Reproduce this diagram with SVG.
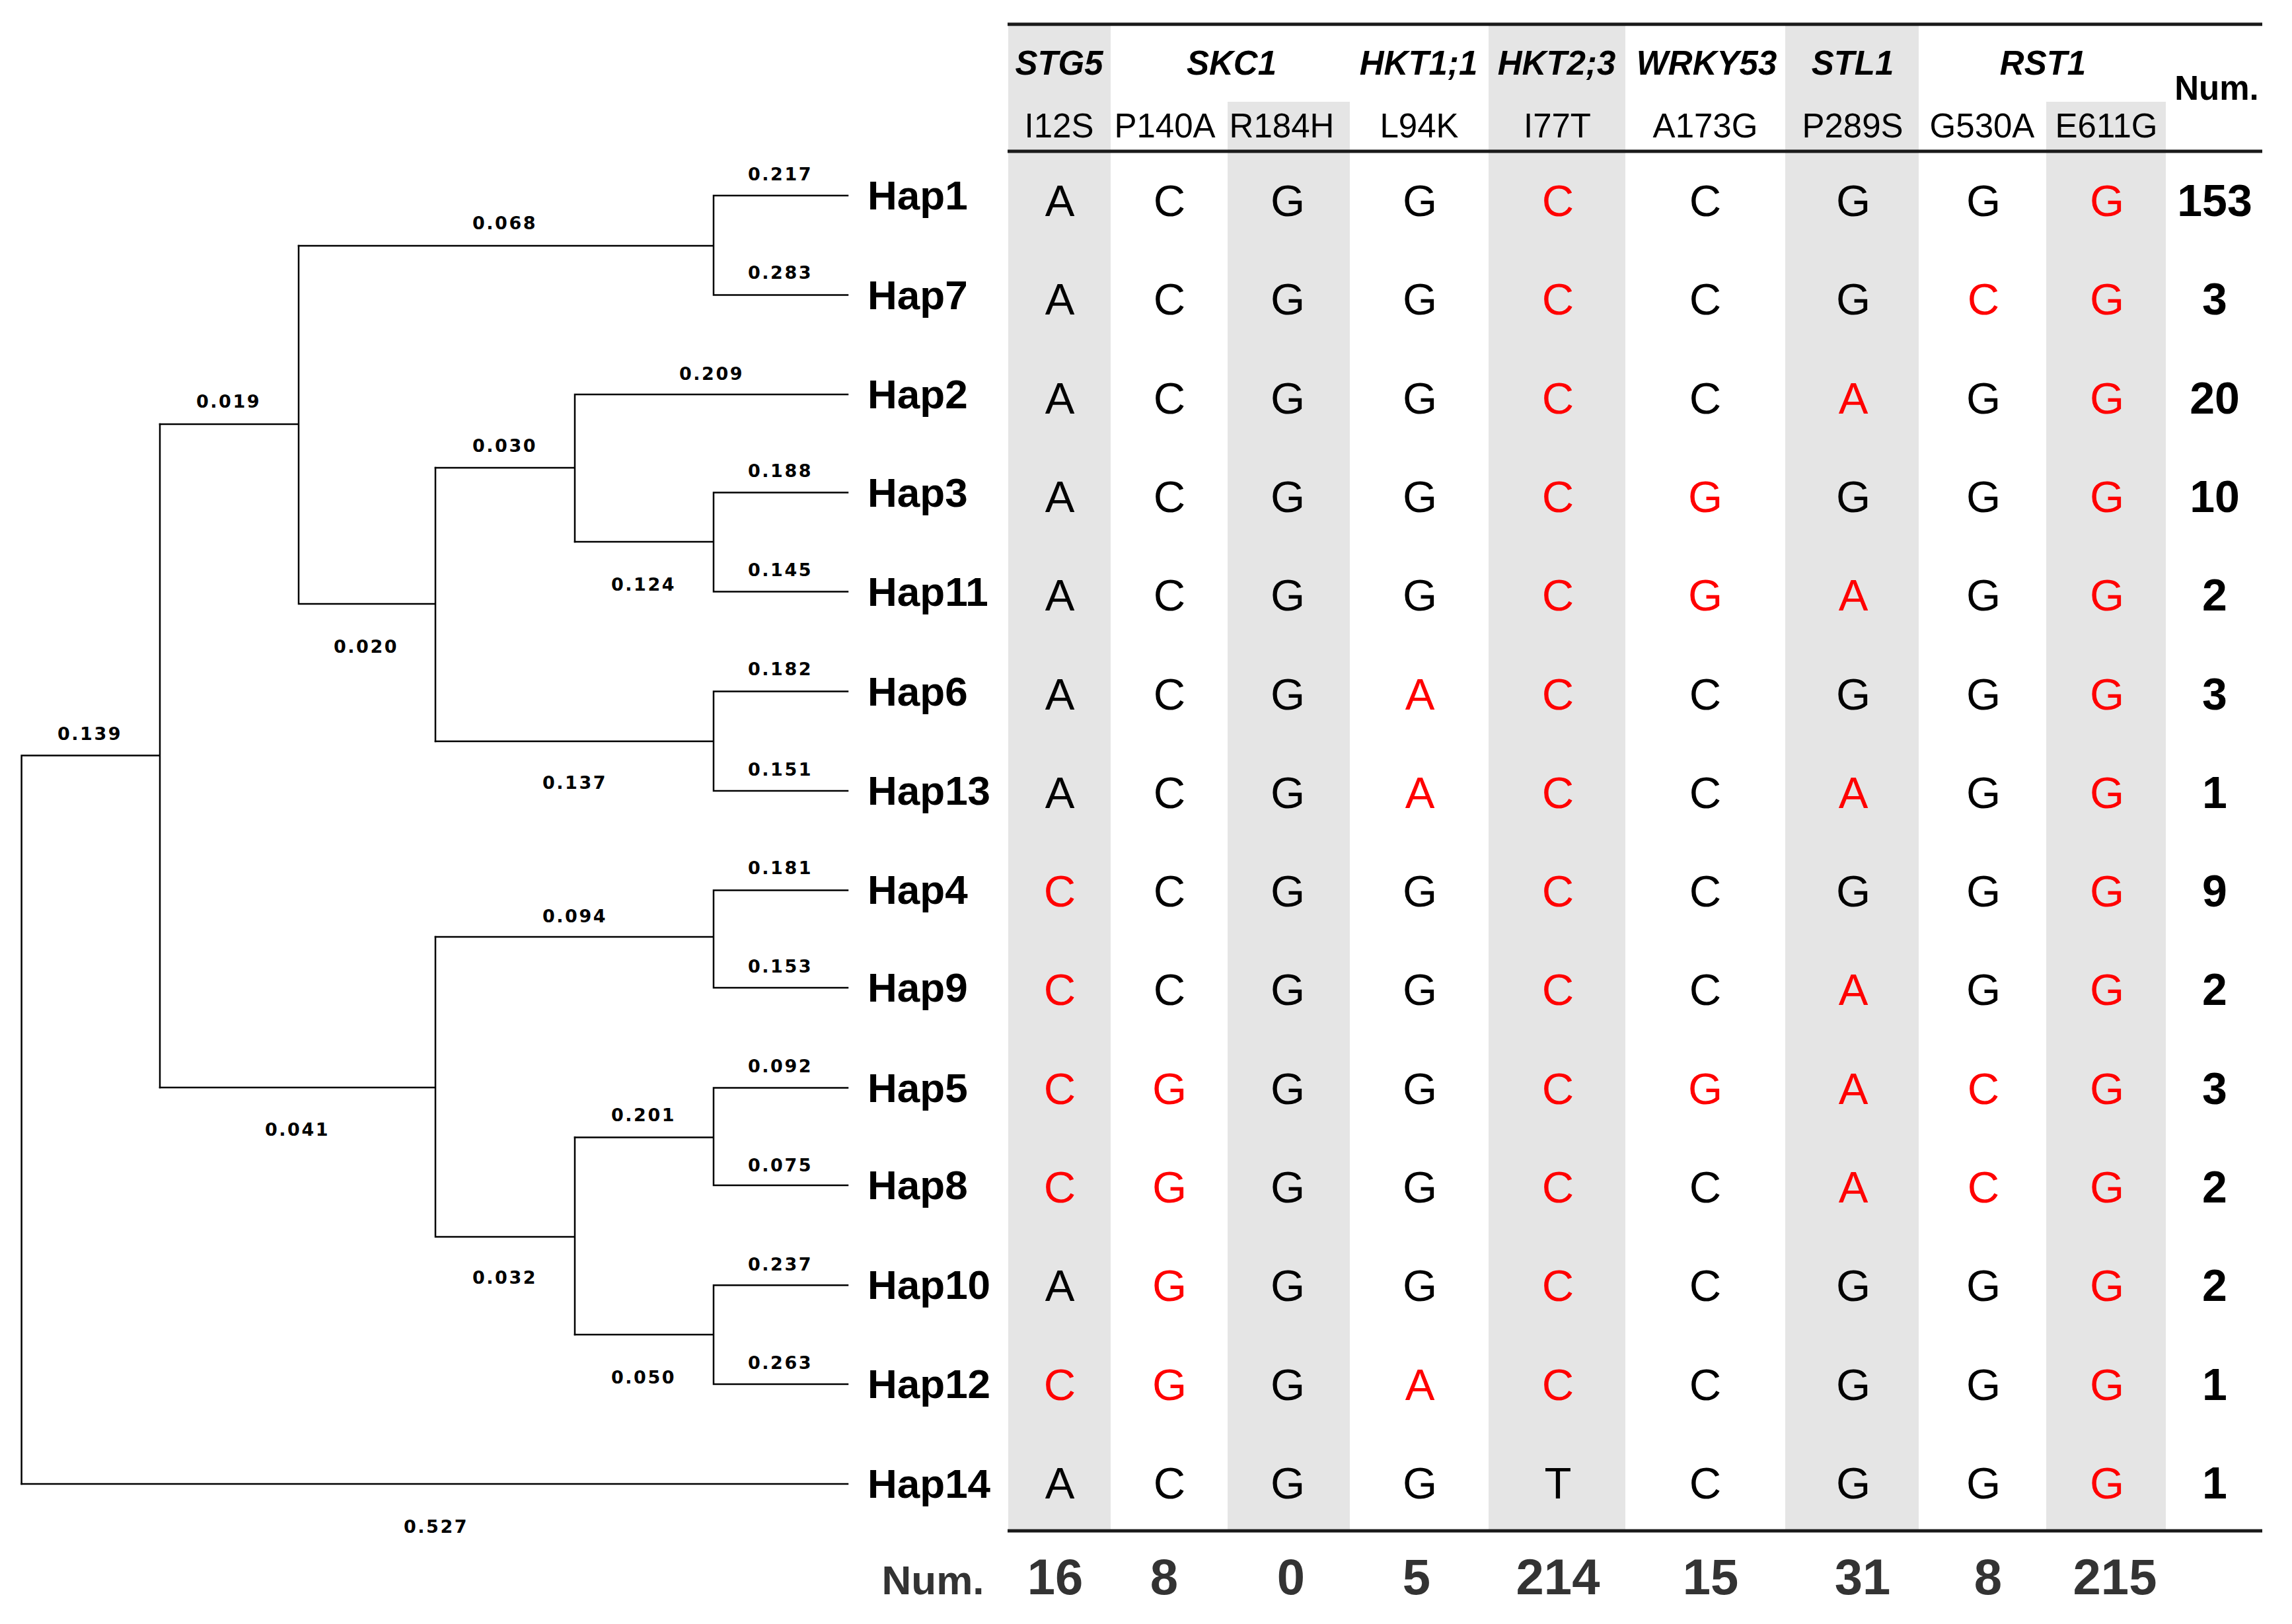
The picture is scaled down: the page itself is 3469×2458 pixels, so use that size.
<svg xmlns="http://www.w3.org/2000/svg" width="3469" height="2458" viewBox="0 0 3469 2458">
<style>
.ln{stroke:#000;stroke-width:2.5;fill:none;stroke-linecap:square}
.bl{font-family:"DejaVu Sans",sans-serif;font-weight:bold;font-size:27px;letter-spacing:2.5px;text-anchor:middle;fill:#000}
.hap{font-family:"Liberation Sans",Arial,sans-serif;font-weight:bold;font-size:62px;fill:#000}
.g{font-family:"Liberation Sans",Arial,sans-serif;font-weight:bold;font-style:italic;font-size:51px;text-anchor:middle;fill:#000}
.s{font-family:"Liberation Sans",Arial,sans-serif;font-size:51px;text-anchor:middle;fill:#000}
.c{font-family:"Liberation Sans",Arial,sans-serif;font-size:67px;text-anchor:middle;fill:#000}
.c .r{fill:#ff0000}
.n{font-family:"Liberation Sans",Arial,sans-serif;font-weight:bold;font-size:68px;text-anchor:middle;fill:#000}
.sh{fill:#e5e5e5}
.rule{stroke:#1a1a1a;stroke-width:5}
.tot{font-family:"Liberation Sans",Arial,sans-serif;font-weight:bold;font-size:76px;text-anchor:middle;fill:#333}
.totl{font-family:"Liberation Sans",Arial,sans-serif;font-weight:bold;font-size:62px;text-anchor:middle;fill:#333}
</style>
<rect width="3469" height="2458" fill="#fff"/>

<g id="table-shading">
<rect class="sh" x="1526" y="39" width="155" height="2277"/>
<rect class="sh" x="1858" y="154" width="185" height="2162"/>
<rect class="sh" x="2253" y="39" width="207" height="2277"/>
<rect class="sh" x="2702" y="39" width="202" height="2277"/>
<rect class="sh" x="3097" y="154" width="181" height="2162"/>
</g>

<g id="connectors">
<path class="ln" d="M1080,296 H1283 M1080,446.5 H1283 M1080,296 V446.5 M452,372 H1080"/>
<path class="ln" d="M870,597 H1283 M870,597 V820 M659,708 H870"/>
<path class="ln" d="M1080,745.5 H1283 M1080,895.5 H1283 M1080,745.5 V895.5 M870,820 H1080"/>
<path class="ln" d="M242,642 H452 M452,372 V914 M452,914 H659 M659,708 V1122"/>
<path class="ln" d="M1080,1046.5 H1283 M1080,1197 H1283 M1080,1046.5 V1197 M659,1122 H1080"/>
<path class="ln" d="M32.6,1143.4 H242 M242,642 V1646 M32.6,1143.4 V2246"/>
<path class="ln" d="M1080,1347.4 H1283 M1080,1495 H1283 M1080,1347.4 V1495 M659,1418 H1080"/>
<path class="ln" d="M242,1646 H659 M659,1418 V1872 M659,1872 H870 M870,1721.5 V2020"/>
<path class="ln" d="M1080,1646.5 H1283 M1080,1794 H1283 M1080,1646.5 V1794 M870,1721.5 H1080"/>
<path class="ln" d="M1080,1945.3 H1283 M1080,2095 H1283 M1080,1945.3 V2095 M870,2020 H1080"/>
<path class="ln" d="M32.6,2246 H1283"/>
</g>

<g id="branch-lengths">
<text class="bl" x="1181" y="273">0.217</text>
<text class="bl" x="1181" y="422">0.283</text>
<text class="bl" x="764" y="347">0.068</text>
<text class="bl" x="1077" y="575">0.209</text>
<text class="bl" x="764" y="684">0.030</text>
<text class="bl" x="1181" y="722">0.188</text>
<text class="bl" x="1181" y="872">0.145</text>
<text class="bl" x="974" y="894">0.124</text>
<text class="bl" x="346" y="617">0.019</text>
<text class="bl" x="554" y="988">0.020</text>
<text class="bl" x="1181" y="1022">0.182</text>
<text class="bl" x="1181" y="1174">0.151</text>
<text class="bl" x="870" y="1194">0.137</text>
<text class="bl" x="136" y="1120">0.139</text>
<text class="bl" x="1181" y="1323">0.181</text>
<text class="bl" x="870" y="1396">0.094</text>
<text class="bl" x="1181" y="1472">0.153</text>
<text class="bl" x="1181" y="1623">0.092</text>
<text class="bl" x="974" y="1697">0.201</text>
<text class="bl" x="450" y="1719">0.041</text>
<text class="bl" x="1181" y="1773">0.075</text>
<text class="bl" x="764" y="1943">0.032</text>
<text class="bl" x="1181" y="1923">0.237</text>
<text class="bl" x="1181" y="2072">0.263</text>
<text class="bl" x="974" y="2094">0.050</text>
<text class="bl" x="660" y="2320">0.527</text>
</g>

<g id="Hap1"><text class="hap" x="1313" y="317">Hap1</text></g>
<g id="Hap7"><text class="hap" x="1313" y="467.5">Hap7</text></g>
<g id="Hap2"><text class="hap" x="1313" y="618">Hap2</text></g>
<g id="Hap3"><text class="hap" x="1313" y="766.5">Hap3</text></g>
<g id="Hap11"><text class="hap" x="1313" y="916.5">Hap11</text></g>
<g id="Hap6"><text class="hap" x="1313" y="1067.5">Hap6</text></g>
<g id="Hap13"><text class="hap" x="1313" y="1218">Hap13</text></g>
<g id="Hap4"><text class="hap" x="1313" y="1368.4">Hap4</text></g>
<g id="Hap9"><text class="hap" x="1313" y="1516">Hap9</text></g>
<g id="Hap5"><text class="hap" x="1313" y="1667.5">Hap5</text></g>
<g id="Hap8"><text class="hap" x="1313" y="1815">Hap8</text></g>
<g id="Hap10"><text class="hap" x="1313" y="1966.3">Hap10</text></g>
<g id="Hap12"><text class="hap" x="1313" y="2116">Hap12</text></g>
<g id="Hap14"><text class="hap" x="1313" y="2267">Hap14</text></g>

<g id="table-rules">
<line class="rule" x1="1525" y1="36.7" x2="3424" y2="36.7"/>
<line class="rule" x1="1525" y1="229" x2="3424" y2="229"/>
<line class="rule" x1="1525" y1="2317" x2="3424" y2="2317"/>
</g>

<g id="table-header">
<text class="g" x="1603" y="113">STG5</text>
<text class="g" x="1864" y="113">SKC1</text>
<text class="g" x="2147" y="113">HKT1;1</text>
<text class="g" x="2356" y="113">HKT2;3</text>
<text class="g" x="2583" y="113">WRKY53</text>
<text class="g" x="2804" y="113">STL1</text>
<text class="g" x="3092" y="113">RST1</text>
<text class="s" x="1603" y="208">I12S</text>
<text class="s" x="1763" y="208">P140A</text>
<text class="s" x="1940" y="208">R184H</text>
<text class="s" x="2148" y="208">L94K</text>
<text class="s" x="2357" y="208">I77T</text>
<text class="s" x="2581" y="208">A173G</text>
<text class="s" x="2804" y="208">P289S</text>
<text class="s" x="3000" y="208">G530A</text>
<text class="s" x="3188" y="208">E611G</text>
<text class="g" x="3355" y="151" style="font-style:normal">Num.</text>
</g>

<g id="table-rows">
<text class="c" y="327"><tspan x="1604">A</tspan><tspan x="1770">C</tspan><tspan x="1949">G</tspan><tspan x="2149">G</tspan><tspan x="2358" class="r">C</tspan><tspan x="2581">C</tspan><tspan x="2805">G</tspan><tspan x="3002">G</tspan><tspan x="3189" class="r">G</tspan></text>
<text class="c" y="476.3"><tspan x="1604">A</tspan><tspan x="1770">C</tspan><tspan x="1949">G</tspan><tspan x="2149">G</tspan><tspan x="2358" class="r">C</tspan><tspan x="2581">C</tspan><tspan x="2805">G</tspan><tspan x="3002" class="r">C</tspan><tspan x="3189" class="r">G</tspan></text>
<text class="c" y="625.6"><tspan x="1604">A</tspan><tspan x="1770">C</tspan><tspan x="1949">G</tspan><tspan x="2149">G</tspan><tspan x="2358" class="r">C</tspan><tspan x="2581">C</tspan><tspan x="2805" class="r">A</tspan><tspan x="3002">G</tspan><tspan x="3189" class="r">G</tspan></text>
<text class="c" y="774.9"><tspan x="1604">A</tspan><tspan x="1770">C</tspan><tspan x="1949">G</tspan><tspan x="2149">G</tspan><tspan x="2358" class="r">C</tspan><tspan x="2581" class="r">G</tspan><tspan x="2805">G</tspan><tspan x="3002">G</tspan><tspan x="3189" class="r">G</tspan></text>
<text class="c" y="924.2"><tspan x="1604">A</tspan><tspan x="1770">C</tspan><tspan x="1949">G</tspan><tspan x="2149">G</tspan><tspan x="2358" class="r">C</tspan><tspan x="2581" class="r">G</tspan><tspan x="2805" class="r">A</tspan><tspan x="3002">G</tspan><tspan x="3189" class="r">G</tspan></text>
<text class="c" y="1073.5"><tspan x="1604">A</tspan><tspan x="1770">C</tspan><tspan x="1949">G</tspan><tspan x="2149" class="r">A</tspan><tspan x="2358" class="r">C</tspan><tspan x="2581">C</tspan><tspan x="2805">G</tspan><tspan x="3002">G</tspan><tspan x="3189" class="r">G</tspan></text>
<text class="c" y="1222.8"><tspan x="1604">A</tspan><tspan x="1770">C</tspan><tspan x="1949">G</tspan><tspan x="2149" class="r">A</tspan><tspan x="2358" class="r">C</tspan><tspan x="2581">C</tspan><tspan x="2805" class="r">A</tspan><tspan x="3002">G</tspan><tspan x="3189" class="r">G</tspan></text>
<text class="c" y="1372.1"><tspan x="1604" class="r">C</tspan><tspan x="1770">C</tspan><tspan x="1949">G</tspan><tspan x="2149">G</tspan><tspan x="2358" class="r">C</tspan><tspan x="2581">C</tspan><tspan x="2805">G</tspan><tspan x="3002">G</tspan><tspan x="3189" class="r">G</tspan></text>
<text class="c" y="1521.4"><tspan x="1604" class="r">C</tspan><tspan x="1770">C</tspan><tspan x="1949">G</tspan><tspan x="2149">G</tspan><tspan x="2358" class="r">C</tspan><tspan x="2581">C</tspan><tspan x="2805" class="r">A</tspan><tspan x="3002">G</tspan><tspan x="3189" class="r">G</tspan></text>
<text class="c" y="1670.7"><tspan x="1604" class="r">C</tspan><tspan x="1770" class="r">G</tspan><tspan x="1949">G</tspan><tspan x="2149">G</tspan><tspan x="2358" class="r">C</tspan><tspan x="2581" class="r">G</tspan><tspan x="2805" class="r">A</tspan><tspan x="3002" class="r">C</tspan><tspan x="3189" class="r">G</tspan></text>
<text class="c" y="1820"><tspan x="1604" class="r">C</tspan><tspan x="1770" class="r">G</tspan><tspan x="1949">G</tspan><tspan x="2149">G</tspan><tspan x="2358" class="r">C</tspan><tspan x="2581">C</tspan><tspan x="2805" class="r">A</tspan><tspan x="3002" class="r">C</tspan><tspan x="3189" class="r">G</tspan></text>
<text class="c" y="1969.3"><tspan x="1604">A</tspan><tspan x="1770" class="r">G</tspan><tspan x="1949">G</tspan><tspan x="2149">G</tspan><tspan x="2358" class="r">C</tspan><tspan x="2581">C</tspan><tspan x="2805">G</tspan><tspan x="3002">G</tspan><tspan x="3189" class="r">G</tspan></text>
<text class="c" y="2118.6"><tspan x="1604" class="r">C</tspan><tspan x="1770" class="r">G</tspan><tspan x="1949">G</tspan><tspan x="2149" class="r">A</tspan><tspan x="2358" class="r">C</tspan><tspan x="2581">C</tspan><tspan x="2805">G</tspan><tspan x="3002">G</tspan><tspan x="3189" class="r">G</tspan></text>
<text class="c" y="2267.9"><tspan x="1604">A</tspan><tspan x="1770">C</tspan><tspan x="1949">G</tspan><tspan x="2149">G</tspan><tspan x="2358">T</tspan><tspan x="2581">C</tspan><tspan x="2805">G</tspan><tspan x="3002">G</tspan><tspan x="3189" class="r">G</tspan></text>
</g>

<g id="hap-counts">
<text class="n" x="3352" y="327">153</text>
<text class="n" x="3352" y="476.3">3</text>
<text class="n" x="3352" y="625.6">20</text>
<text class="n" x="3352" y="774.9">10</text>
<text class="n" x="3352" y="924.2">2</text>
<text class="n" x="3352" y="1073.5">3</text>
<text class="n" x="3352" y="1222.8">1</text>
<text class="n" x="3352" y="1372.1">9</text>
<text class="n" x="3352" y="1521.4">2</text>
<text class="n" x="3352" y="1670.7">3</text>
<text class="n" x="3352" y="1820">2</text>
<text class="n" x="3352" y="1969.3">2</text>
<text class="n" x="3352" y="2118.6">1</text>
<text class="n" x="3352" y="2267.9">1</text>
</g>

<g id="site-totals">
<text class="totl" x="1412" y="2413">Num.</text>
<text class="tot" x="1597" y="2413">16</text>
<text class="tot" x="1762" y="2413">8</text>
<text class="tot" x="1954" y="2413">0</text>
<text class="tot" x="2144" y="2413">5</text>
<text class="tot" x="2358" y="2413">214</text>
<text class="tot" x="2589" y="2413">15</text>
<text class="tot" x="2819" y="2413">31</text>
<text class="tot" x="3009" y="2413">8</text>
<text class="tot" x="3201" y="2413">215</text>
</g>
</svg>
